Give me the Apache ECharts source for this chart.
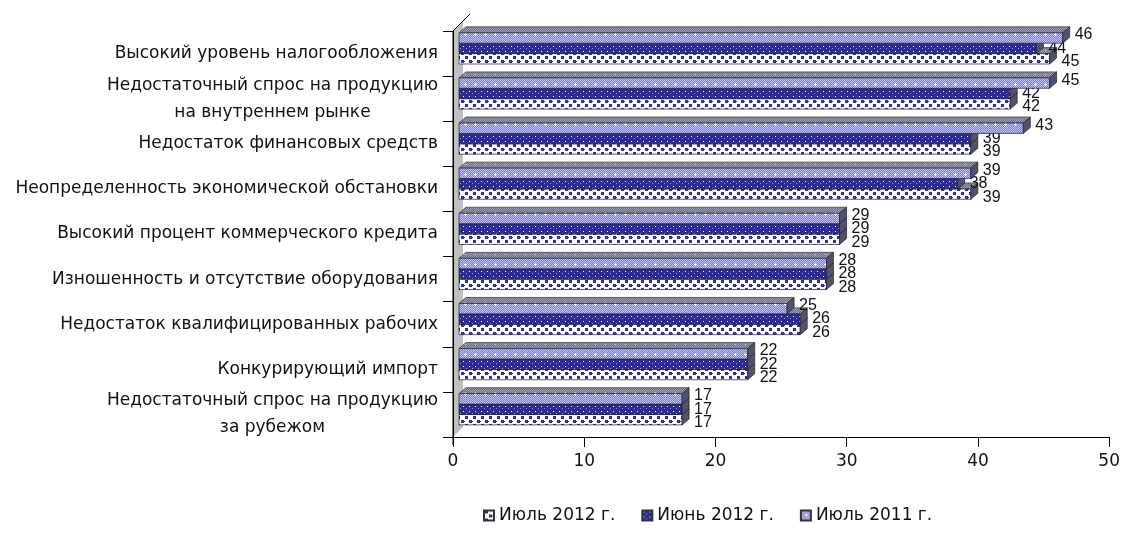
<!DOCTYPE html>
<html>
<head>
<meta charset="utf-8">
<script src="https://cdn.jsdelivr.net/npm/echarts@6/dist/echarts.min.js"></script>
<style>
  html, body { margin: 0; padding: 0; background: #fff; }
  #chart { width: 1123px; height: 538px; }
</style>
</head>
<body>
<div id="chart"></div>
<script>
// категории и значения
var categories = [
    'Высокий уровень налогообложения',
    'Недостаточный спрос на продукцию\nна внутреннем рынке',
    'Недостаток финансовых средств',
    'Неопределенность экономической обстановки',
    'Высокий процент коммерческого кредита',
    'Изношенность и отсутствие оборудования',
    'Недостаток квалифицированных рабочих',
    'Конкурирующий импорт',
    'Недостаточный спрос на продукцию\nза рубежом'
];
var seriesNames = ['Июль 2012 г.', 'Июнь 2012 г.', 'Июль 2011 г.'];
var jul2012 = [45, 42, 39, 39, 29, 28, 26, 22, 17];
var jun2012 = [44, 42, 39, 38, 29, 28, 26, 22, 17];
var jul2011 = [46, 45, 43, 39, 29, 28, 25, 22, 17];
var xTicks = [0, 10, 20, 30, 40, 50];

// узоры заливки
function makePattern(w, h, draw) {
    var c = document.createElement('canvas');
    c.width = w; c.height = h;
    draw(c.getContext('2d'));
    return { image: c, repeat: 'repeat' };
}
var patJul2012 = makePattern(8, 8, function (ctx) {
    ctx.fillStyle = '#ffffff'; ctx.fillRect(0, 0, 8, 8);
    ctx.fillStyle = '#3030a4';
    ctx.fillRect(1, 0, 3, 3);
    ctx.fillRect(5, 4, 3, 3);
    ctx.fillRect(0, 5, 1, 1);
});
var patJun2012 = makePattern(6, 5, function (ctx) {
    ctx.fillStyle = '#2c2c94'; ctx.fillRect(0, 0, 6, 5);
    ctx.fillStyle = '#ffffff';
    ctx.fillRect(1, 1, 1, 1);
    ctx.fillStyle = '#9a9ade';
    ctx.fillRect(4, 3, 1, 1);
});
var patJul2011 = makePattern(10, 10, function (ctx) {
    for (var i = 0; i < 10; i++) {
        for (var j = 0; j < 10; j++) {
            ctx.fillStyle = (i + j) % 2 ? '#7e7ed0' : '#c4c4f0';
            ctx.fillRect(i, j, 1, 1);
        }
    }
    ctx.fillStyle = '#ffffff';
    ctx.fillRect(5, 3, 1, 3);
    ctx.fillRect(4, 4, 3, 1);
});
var patTop = makePattern(10, 6, function (ctx) {
    for (var i = 0; i < 10; i++) {
        for (var j = 0; j < 6; j++) {
            ctx.fillStyle = (i + j) % 2 ? '#70708a' : '#9c9cb2';
            ctx.fillRect(i, j, 1, 1);
        }
    }
    ctx.fillStyle = '#d0d0da';
    ctx.fillRect(5, 2, 1, 1);
});
var patterns = [patJul2012, patJun2012, patJul2011];
var dataSets = [jul2012, jun2012, jul2011];
// 0 - нижний столбик, 2 - верхний
var slot = [2, 1, 0];

var DX = 7, DY = -6, BAR_H = 10.4, SHIFT_X = 6;

function makeRender(s) {
    return function (params, api) {
        var v = api.value(0), c = api.value(1);
        var p0 = api.coord([0, c]);
        var p1 = api.coord([v, c]);
        var band = api.size([0, 1])[1];
        var bandTop = p0[1] - band / 2;
        var y = bandTop + 1.8 + slot[s] * BAR_H;
        var x0 = p0[0] + SHIFT_X, x1 = p1[0] + SHIFT_X;
        var h = BAR_H;
        var labelOff = [3, 0, -3][s];
        return {
            type: 'group',
            children: [
                {
                    type: 'polygon',
                    shape: { points: [[x0, y], [x0 + DX, y + DY], [x1 + DX, y + DY], [x1, y]] },
                    style: { fill: patTop, stroke: '#333', lineWidth: 0.7 }
                },
                {
                    type: 'rect',
                    shape: { x: x0, y: y, width: x1 - x0, height: h },
                    style: { fill: patterns[s], stroke: '#222', lineWidth: 0.7 }
                },
                {
                    type: 'polygon',
                    shape: { points: [[x1, y], [x1 + DX, y + DY], [x1 + DX, y + h + DY], [x1, y + h]] },
                    style: { fill: '#52526c', stroke: '#222', lineWidth: 0.7 }
                },
                {
                    type: 'text',
                    style: {
                        text: String(v),
                        x: x1 + DX + 5,
                        y: y + h / 2 + labelOff,
                        verticalAlign: 'middle',
                        fill: '#111',
                        fontSize: 16,
                        fontFamily: 'Liberation Sans Narrow, Liberation Sans, sans-serif'
                    }
                }
            ]
        };
    };
}

var series = [];
for (var s = 0; s < 3; s++) {
    series.push({
        name: seriesNames[s],
        type: 'custom',
        renderItem: makeRender(s),
        itemStyle: { color: patterns[s], borderColor: '#333', borderWidth: 0.5 },
        encode: { x: 0, y: 1 },
        clip: false,
        data: dataSets[s].map(function (v, i) { return [v, i]; })
    });
}

var chart = echarts.init(document.getElementById('chart'));
var option = {
    animation: false,
    backgroundColor: '#fff',
    grid: { left: 453, right: 13, top: 31, bottom: 101, containLabel: false },
    legend: {
        data: seriesNames,
        left: 478,
        top: 502,
        icon: 'rect',
        itemWidth: 10,
        itemHeight: 10,
        itemGap: 26,
        textStyle: { fontFamily: 'DejaVu Sans', fontSize: 17, color: '#111' }
    },
    xAxis: {
        type: 'value',
        min: 0,
        max: 50,
        interval: 10,
        axisLine: { show: true, lineStyle: { color: '#000', width: 1 } },
        axisTick: { show: true, length: 10, lineStyle: { color: '#000' } },
        splitLine: { show: false },
        axisLabel: {
            margin: 16,
            fontFamily: 'DejaVu Sans', fontSize: 17, color: '#111',
            formatter: function (v) { return xTicks.indexOf(v) >= 0 ? String(v) : ''; }
        }
    },
    yAxis: {
        type: 'category',
        inverse: true,
        data: categories,
        axisLine: { show: true, onZero: false, lineStyle: { color: '#000', width: 1 } },
        axisTick: { show: true, length: 10, lineStyle: { color: '#000' } },
        axisLabel: {
            margin: 15,
            formatter: function (v) {
                return v.split('\n').map(function (l) { return '{c|' + l + '}'; }).join('\n');
            },
            rich: {
                c: { align: 'center', fontFamily: 'DejaVu Sans', fontSize: 17, color: '#111', lineHeight: 27 }
            }
        }
    },
    series: series
};
chart.setOption(option);

// боковая стенка
var gridTop = 31, gridBottom = 538 - 101, gx = 453;
chart.setOption({
    graphic: [
        {
            type: 'polygon', z: -1,
            shape: { points: [[gx, gridBottom], [gx, gridTop], [gx + 10, gridTop - 10], [gx + 10, gridBottom - 10]] },
            style: { fill: '#c0c0c0' }
        },
        {
            type: 'line', z: 10,
            shape: { x1: gx, y1: gridTop, x2: gx + 17, y2: gridTop - 17 },
            style: { stroke: '#000', lineWidth: 1 }
        },
        {
            type: 'line', z: 10,
            shape: { x1: gx, y1: gridTop, x2: gx, y2: gridBottom + 8 },
            style: { stroke: '#000', lineWidth: 1 }
        }
    ]
});
</script>
</body>
</html>
